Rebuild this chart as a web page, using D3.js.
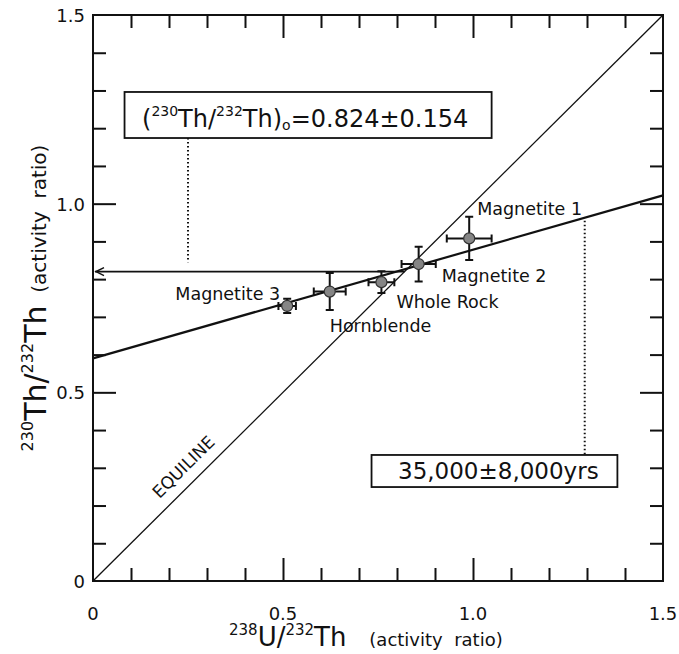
<!DOCTYPE html>
<html>
<head>
<meta charset="utf-8">
<script src="https://cdn.jsdelivr.net/npm/d3@7/dist/d3.min.js"></script>
<style>
  body { margin: 0; background: #fff; }
  svg { display: block; }
  text { font-family: "DejaVu Sans", sans-serif; fill: #111; }
</style>
</head>
<body>
<svg id="chart" width="679" height="654"></svg>
<script>
// values
const samples = ["Magnetite 1", "Magnetite 2", "Whole Rock", "Hornblende", "Magnetite 3"];
const uTh     = [0.990, 0.857, 0.759, 0.623, 0.511];   // 238U/232Th
const uErr    = [0.059, 0.045, 0.034, 0.042, 0.023];
const thTh    = [0.908, 0.840, 0.792, 0.767, 0.729];   // 230Th/232Th
const thErr   = [0.057, 0.046, 0.029, 0.049, 0.019];

const isochronX = [0, 1.5];
const isochronY = [0.59, 1.022];
const equiline  = [0, 1.5];
const initialRatio = 0.82;   // where the arrow meets the y axis
const ageX = 1.294;          // dotted drop line to the age box

const majorTicks = [0, 0.5, 1.0, 1.5];
const majorLabels = ["0", "0.5", "1.0", "1.5"];
const minorTicks = [0.1, 0.2, 0.3, 0.4, 0.6, 0.7, 0.8, 0.9, 1.1, 1.2, 1.3, 1.4];

// label placement next to each point (pixels)
const labelOffsets = [[8, -23, "start"], [23, 18, "start"], [15, 26, "start"], [0, 40, "start"], [-7, -6, "end"]];

let svg = d3.select("#chart");

let x = d3.scaleLinear().domain([0, 1.5]).range([93, 663]);
let y = d3.scaleLinear().domain([0, 1.5]).range([581, 15]);

// frame
svg.append("rect")
    .attr("x", x(0)).attr("y", y(1.5))
    .attr("width", x(1.5) - x(0)).attr("height", y(0) - y(1.5))
    .attr("fill", "none").attr("stroke", "#111").attr("stroke-width", 2);

function ticks(axisFn, scale, vals, size, transform){
    svg.append("g")
        .attr("transform", transform)
        .call(axisFn(scale).tickValues(vals).tickSize(size).tickFormat(""))
        .call(g => g.select(".domain").remove())
        .selectAll("line").attr("stroke", "#111").attr("stroke-width", 2);
}
ticks(d3.axisBottom, x, minorTicks, -13, `translate(0,${y(0)})`);
ticks(d3.axisBottom, x, majorTicks.slice(1, 3), -23, `translate(0,${y(0)})`);
ticks(d3.axisTop, x, minorTicks, -13, `translate(0,${y(1.5)})`);
ticks(d3.axisTop, x, majorTicks.slice(1, 3), -23, `translate(0,${y(1.5)})`);
ticks(d3.axisLeft, y, minorTicks, -13, `translate(${x(0)},0)`);
ticks(d3.axisLeft, y, majorTicks.slice(1, 3), -23, `translate(${x(0)},0)`);
ticks(d3.axisRight, y, minorTicks, -13, `translate(${x(1.5)},0)`);
ticks(d3.axisRight, y, majorTicks.slice(1, 3), -23, `translate(${x(1.5)},0)`);

// tick labels
svg.append("g").selectAll("text")
    .data(majorTicks)
    .enter().append("text")
    .attr("x", d => x(d)).attr("y", y(0) + 39)
    .attr("text-anchor", "middle").attr("font-size", 18)
    .text((d, i) => majorLabels[i]);
svg.append("g").selectAll("text")
    .data(majorTicks)
    .enter().append("text")
    .attr("x", x(0) - 8).attr("y", d => y(d) + 7)
    .attr("text-anchor", "end").attr("font-size", 18)
    .text((d, i) => majorLabels[i]);

// axis titles
let xt = svg.append("text")
    .attr("x", 229).attr("y", 646)
    .attr("xml:space", "preserve");
xt.append("tspan").attr("font-size", 15).attr("dy", -11).text("238");
xt.append("tspan").attr("font-size", 26).attr("dy", 11).text("U/");
xt.append("tspan").attr("font-size", 15).attr("dy", -11).text("232");
xt.append("tspan").attr("font-size", 26).attr("dy", 11).text("Th");
xt.append("tspan").attr("font-size", 18).text("    (activity  ratio)");

let yt = svg.append("text")
    .attr("transform", `translate(46,${(y(0) + y(1.5)) / 2}) rotate(-90)`)
    .attr("text-anchor", "middle")
    .attr("xml:space", "preserve");
yt.append("tspan").attr("font-size", 16).attr("dy", -13).text("230");
yt.append("tspan").attr("font-size", 30).attr("dy", 13).text("Th/");
yt.append("tspan").attr("font-size", 16).attr("dy", -13).text("232");
yt.append("tspan").attr("font-size", 30).attr("dy", 13).text("Th");
yt.append("tspan").attr("font-size", 20).text("  (activity  ratio)");

// equiline
svg.append("line")
    .attr("x1", x(equiline[0])).attr("y1", y(equiline[0]))
    .attr("x2", x(equiline[1])).attr("y2", y(equiline[1]))
    .attr("stroke", "#111").attr("stroke-width", 1.3);

let ang = Math.atan2(y(1) - y(0), x(1) - x(0)) * 180 / Math.PI;
svg.append("text")
    .attr("transform", `translate(${x(0.27) - 8},${y(0.27) - 8}) rotate(${ang})`)
    .attr("text-anchor", "middle").attr("font-size", 17)
    .text("EQUILINE");

// isochron
svg.append("line")
    .attr("x1", x(isochronX[0])).attr("y1", y(isochronY[0]))
    .attr("x2", x(isochronX[1])).attr("y2", y(isochronY[1]))
    .attr("stroke", "#111").attr("stroke-width", 2.2);

// arrow to initial ratio
svg.append("line")
    .attr("x1", x(initialRatio)).attr("y1", y(initialRatio))
    .attr("x2", x(0) + 2).attr("y2", y(initialRatio))
    .attr("stroke", "#111").attr("stroke-width", 1.8);
svg.append("path")
    .attr("d", `M${x(0) + 11},${y(initialRatio) - 4} L${x(0) + 3},${y(initialRatio)} L${x(0) + 11},${y(initialRatio) + 4}`)
    .attr("fill", "none").attr("stroke", "#111").attr("stroke-width", 1.5);

// dotted leaders
svg.append("line")
    .attr("x1", x(0.25)).attr("y1", y(1.174))
    .attr("x2", x(0.25)).attr("y2", y(0.845))
    .attr("stroke", "#111").attr("stroke-width", 2).attr("stroke-dasharray", "1.5,2.5");
svg.append("line")
    .attr("x1", x(ageX)).attr("y1", y(isochronY[0] + (isochronY[1] - isochronY[0]) * ageX / 1.5) + 3)
    .attr("x2", x(ageX)).attr("y2", y(0.334))
    .attr("stroke", "#111").attr("stroke-width", 2).attr("stroke-dasharray", "1.5,2.5");

// initial ratio box
svg.append("rect")
    .attr("x", x(0.083)).attr("y", y(1.296))
    .attr("width", x(1.049) - x(0.083)).attr("height", y(1.174) - y(1.296))
    .attr("fill", "#fff").attr("stroke", "#111").attr("stroke-width", 1.8);
let bt = svg.append("text").attr("x", 142).attr("y", 127);
bt.append("tspan").attr("font-size", 24).text("(");
bt.append("tspan").attr("font-size", 14).attr("dy", -11).text("230");
bt.append("tspan").attr("font-size", 24).attr("dy", 11).text("Th/");
bt.append("tspan").attr("font-size", 14).attr("dy", -11).text("232");
bt.append("tspan").attr("font-size", 24).attr("dy", 11).text("Th)");
bt.append("tspan").attr("font-size", 14).attr("dy", 3).text("o");
bt.append("tspan").attr("font-size", 24).attr("dy", -3).text("=0.824±0.154");

// age box
svg.append("rect")
    .attr("x", x(0.733)).attr("y", y(0.334))
    .attr("width", x(1.38) - x(0.733)).attr("height", y(0.249) - y(0.334))
    .attr("fill", "#fff").attr("stroke", "#111").attr("stroke-width", 1.8);
svg.append("text")
    .attr("x", 398).attr("y", 479).attr("font-size", 23)
    .text("35,000±8,000yrs");

// error bars and points
let pts = samples.map((s, i) => ({name: s, u: uTh[i], ue: uErr[i], th: thTh[i], te: thErr[i], off: labelOffsets[i]}));
let g = svg.append("g");
pts.forEach(d => {
    let cx = x(d.u), cy = y(d.th);
    let path = `M${x(d.u - d.ue)},${cy}H${x(d.u + d.ue)}` +
        `M${x(d.u - d.ue)},${cy - 4}V${cy + 4}M${x(d.u + d.ue)},${cy - 4}V${cy + 4}` +
        `M${cx},${y(d.th - d.te)}V${y(d.th + d.te)}` +
        `M${cx - 4},${y(d.th - d.te)}H${cx + 4}M${cx - 4},${y(d.th + d.te)}H${cx + 4}`;
    g.append("path").attr("d", path).attr("fill", "none").attr("stroke", "#111").attr("stroke-width", 2);
    g.append("circle").attr("cx", cx).attr("cy", cy).attr("r", 5.5)
        .attr("fill", "#858585").attr("stroke", "#333").attr("stroke-width", 1.2);
    g.append("text")
        .attr("x", cx + d.off[0]).attr("y", cy + d.off[1])
        .attr("text-anchor", d.off[2]).attr("font-size", 17.5)
        .text(d.name);
});
</script>
</body>
</html>
